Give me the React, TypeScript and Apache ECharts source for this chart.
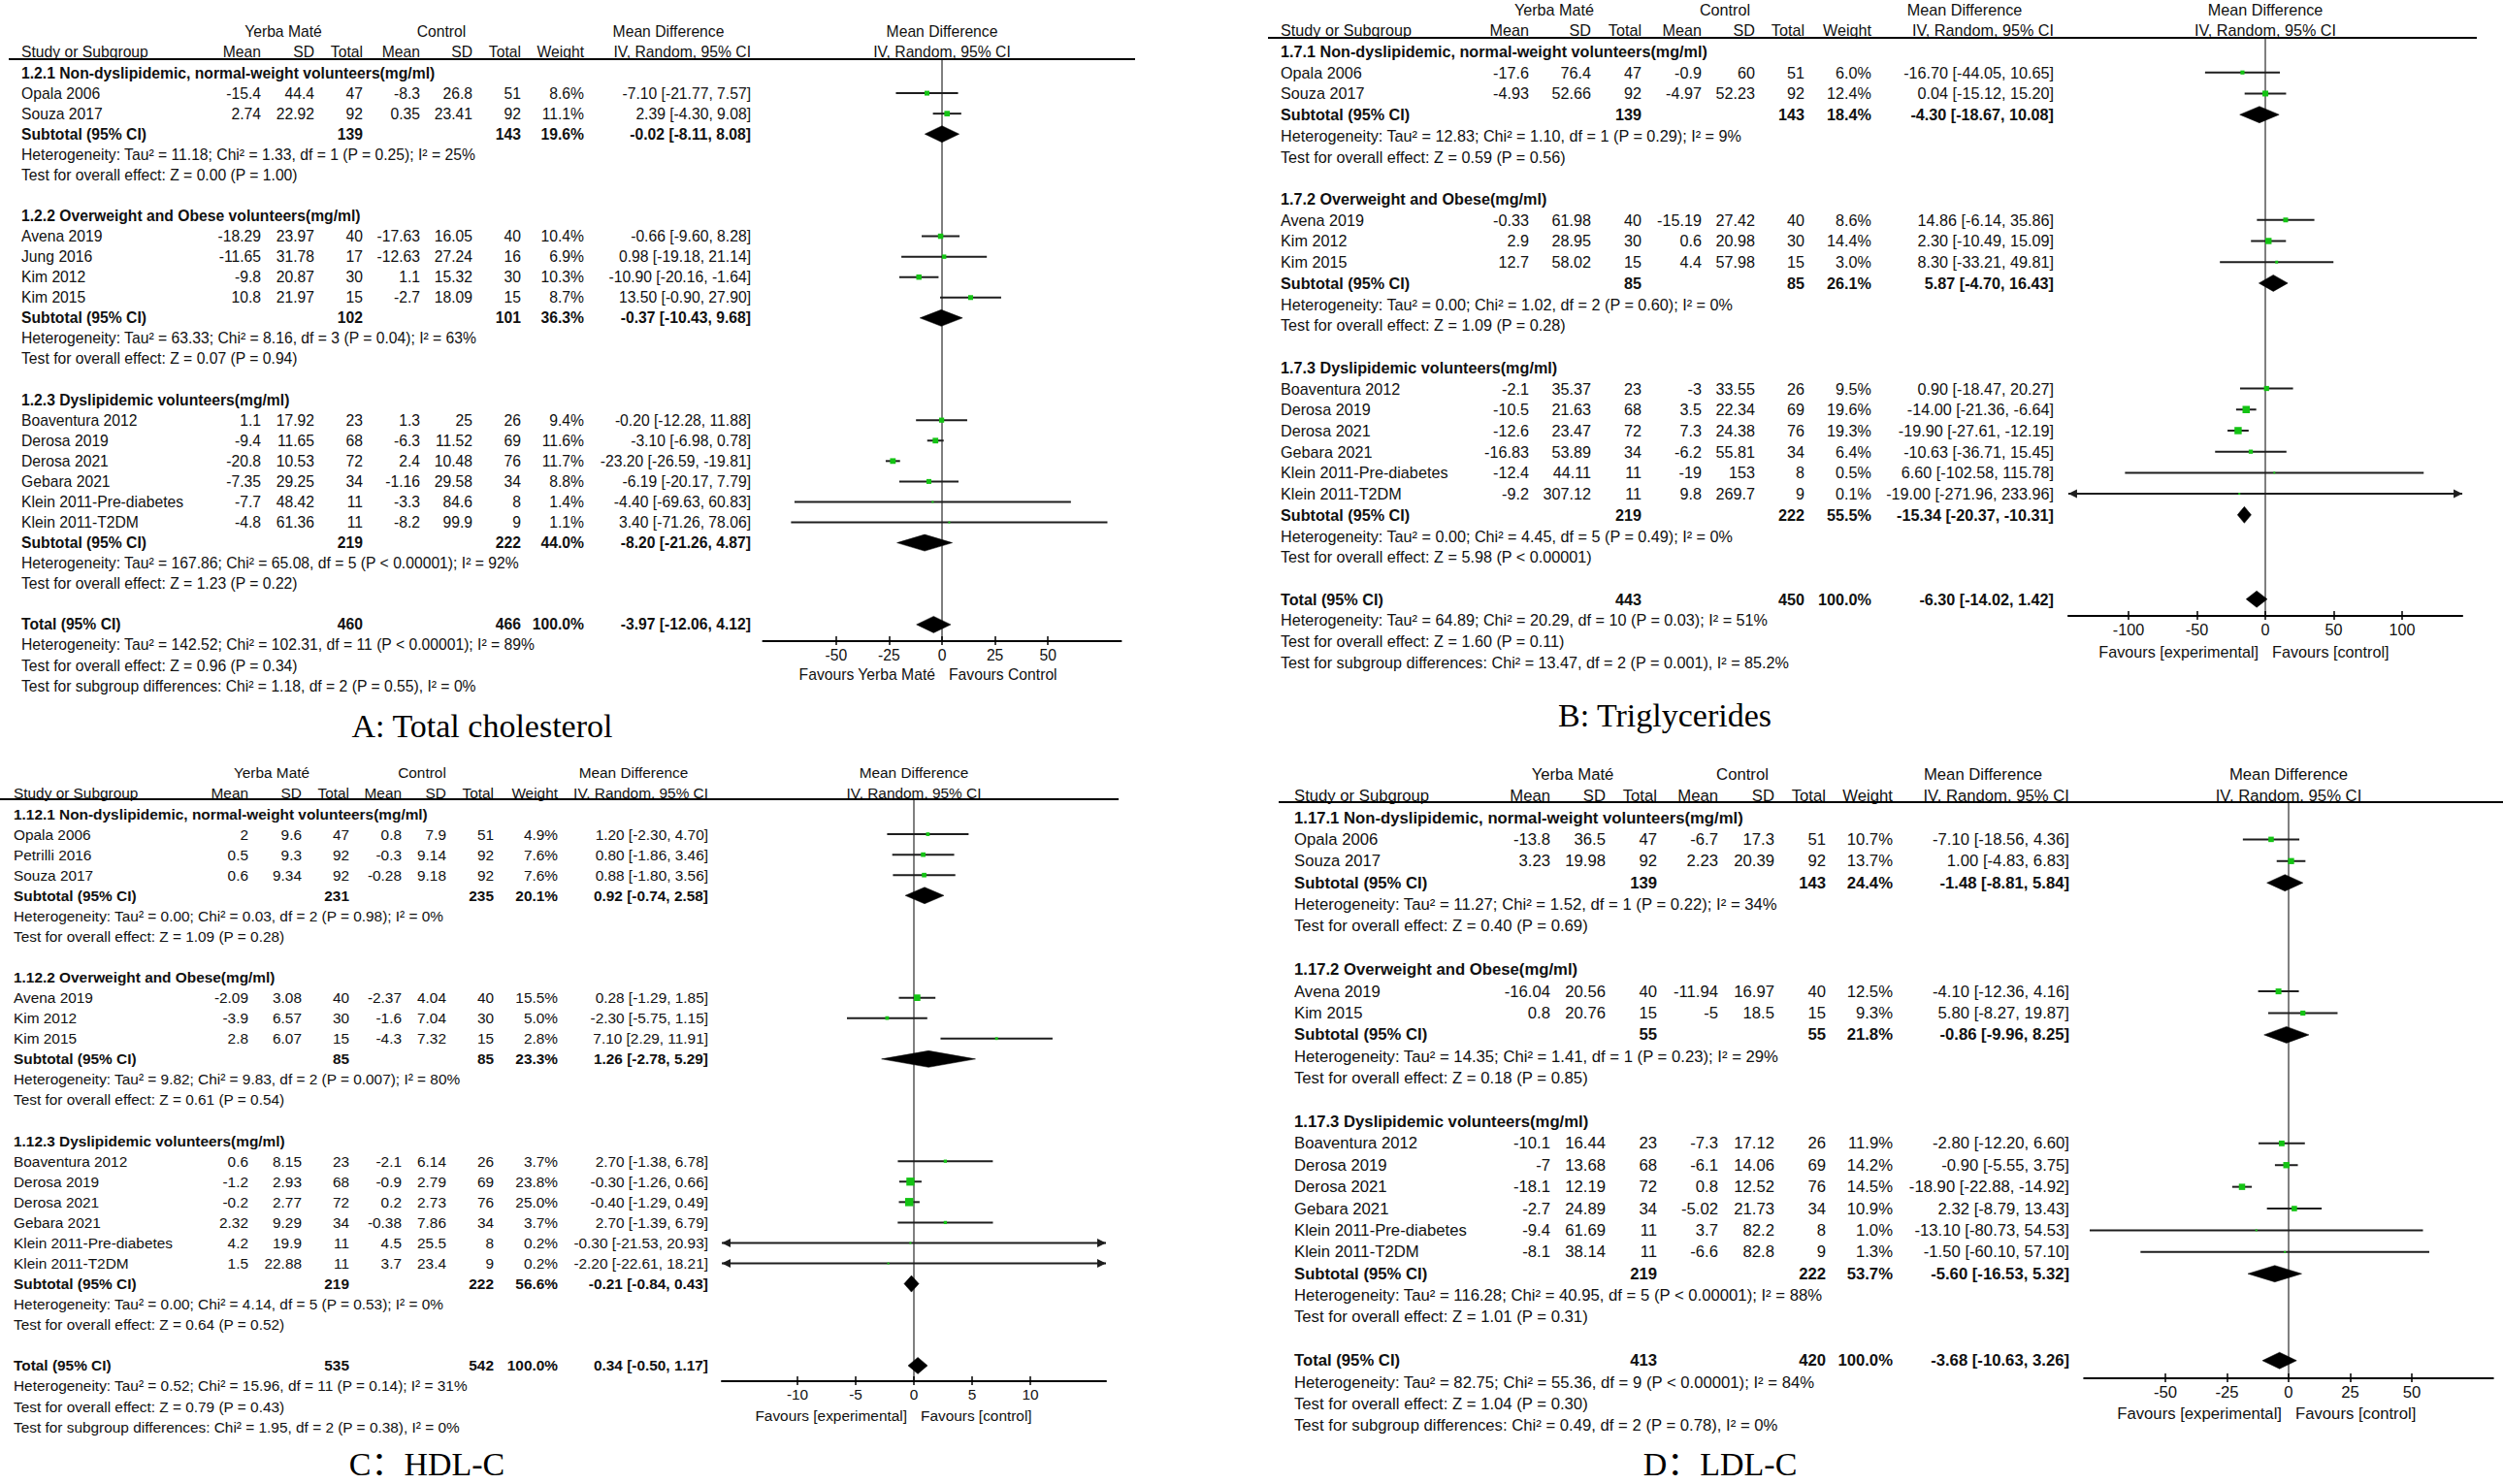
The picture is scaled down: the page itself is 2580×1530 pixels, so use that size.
import React, { useEffect, useRef } from "react";
import * as echarts from "echarts";

// ================= Panel A: Total cholesterol =================
const A_STUDY = ["Opala 2006", "Souza 2017", "Avena 2019", "Jung 2016", "Kim 2012", "Kim 2015", "Boaventura 2012", "Derosa 2019", "Derosa 2021", "Gebara 2021", "Klein 2011-Pre-diabetes", "Klein 2011-T2DM"];
const A_GROUP = [0, 0, 1, 1, 1, 1, 2, 2, 2, 2, 2, 2];
const A_EXP_MEAN = [-15.4, 2.74, -18.29, -11.65, -9.8, 10.8, 1.1, -9.4, -20.8, -7.35, -7.7, -4.8];
const A_EXP_SD = [44.4, 22.92, 23.97, 31.78, 20.87, 21.97, 17.92, 11.65, 10.53, 29.25, 48.42, 61.36];
const A_EXP_N = [47, 92, 40, 17, 30, 15, 23, 68, 72, 34, 11, 11];
const A_CTL_MEAN = [-8.3, 0.35, -17.63, -12.63, 1.1, -2.7, 1.3, -6.3, 2.4, -1.16, -3.3, -8.2];
const A_CTL_SD = [26.8, 23.41, 16.05, 27.24, 15.32, 18.09, 25, 11.52, 10.48, 29.58, 84.6, 99.9];
const A_CTL_N = [51, 92, 40, 16, 30, 15, 26, 69, 76, 34, 8, 9];
const A_WEIGHT = [8.6, 11.1, 10.4, 6.9, 10.3, 8.7, 9.4, 11.6, 11.7, 8.8, 1.4, 1.1];
const A_MD = [-7.1, 2.39, -0.66, 0.98, -10.9, 13.5, -0.2, -3.1, -23.2, -6.19, -4.4, 3.4];
const A_LO = [-21.77, -4.3, -9.6, -19.18, -20.16, -0.9, -12.28, -6.98, -26.59, -20.17, -69.63, -71.26];
const A_HI = [7.57, 9.08, 8.28, 21.14, -1.64, 27.9, 11.88, 0.78, -19.81, 7.79, 60.83, 78.06];
const A_SUB_TITLE = ["1.2.1 Non-dyslipidemic, normal-weight volunteers(mg/ml)", "1.2.2 Overweight and Obese volunteers(mg/ml)", "1.2.3 Dyslipidemic volunteers(mg/ml)"];
const A_SUB_EXP_N = [139, 102, 219];
const A_SUB_CTL_N = [143, 101, 222];
const A_SUB_WEIGHT = [19.6, 36.3, 44.0];
const A_SUB_MD = [-0.02, -0.37, -8.2];
const A_SUB_LO = [-8.11, -10.43, -21.26];
const A_SUB_HI = [8.08, 9.68, 4.87];
const A_SUB_HET = [
  "Heterogeneity: Tau² = 11.18; Chi² = 1.33, df = 1 (P = 0.25); I² = 25%",
  "Heterogeneity: Tau² = 63.33; Chi² = 8.16, df = 3 (P = 0.04); I² = 63%",
  "Heterogeneity: Tau² = 167.86; Chi² = 65.08, df = 5 (P < 0.00001); I² = 92%",
];
const A_SUB_TEST = [
  "Test for overall effect: Z = 0.00 (P = 1.00)",
  "Test for overall effect: Z = 0.07 (P = 0.94)",
  "Test for overall effect: Z = 1.23 (P = 0.22)",
];
const A_TOTAL = [460, 466, 100.0, -3.97, -12.06, 4.12];
const A_TOTAL_NOTES = [
  "Heterogeneity: Tau² = 142.52; Chi² = 102.31, df = 11 (P < 0.00001); I² = 89%",
  "Test for overall effect: Z = 0.96 (P = 0.34)",
  "Test for subgroup differences: Chi² = 1.18, df = 2 (P = 0.55), I² = 0%",
];
const A_TICKS = [-50, -25, 0, 25, 50];
const A_FAVOURS = ["Favours Yerba Maté", "Favours Control"];
const A_TITLE = "A: Total cholesterol";

// ================= Panel B: Triglycerides =================
const B_STUDY = ["Opala 2006", "Souza 2017", "Avena 2019", "Kim 2012", "Kim 2015", "Boaventura 2012", "Derosa 2019", "Derosa 2021", "Gebara 2021", "Klein 2011-Pre-diabetes", "Klein 2011-T2DM"];
const B_GROUP = [0, 0, 1, 1, 1, 2, 2, 2, 2, 2, 2];
const B_EXP_MEAN = [-17.6, -4.93, -0.33, 2.9, 12.7, -2.1, -10.5, -12.6, -16.83, -12.4, -9.2];
const B_EXP_SD = [76.4, 52.66, 61.98, 28.95, 58.02, 35.37, 21.63, 23.47, 53.89, 44.11, 307.12];
const B_EXP_N = [47, 92, 40, 30, 15, 23, 68, 72, 34, 11, 11];
const B_CTL_MEAN = [-0.9, -4.97, -15.19, 0.6, 4.4, -3, 3.5, 7.3, -6.2, -19, 9.8];
const B_CTL_SD = [60, 52.23, 27.42, 20.98, 57.98, 33.55, 22.34, 24.38, 55.81, 153, 269.7];
const B_CTL_N = [51, 92, 40, 30, 15, 26, 69, 76, 34, 8, 9];
const B_WEIGHT = [6.0, 12.4, 8.6, 14.4, 3.0, 9.5, 19.6, 19.3, 6.4, 0.5, 0.1];
const B_MD = [-16.7, 0.04, 14.86, 2.3, 8.3, 0.9, -14.0, -19.9, -10.63, 6.6, -19.0];
const B_LO = [-44.05, -15.12, -6.14, -10.49, -33.21, -18.47, -21.36, -27.61, -36.71, -102.58, -271.96];
const B_HI = [10.65, 15.2, 35.86, 15.09, 49.81, 20.27, -6.64, -12.19, 15.45, 115.78, 233.96];
const B_SUB_TITLE = ["1.7.1 Non-dyslipidemic, normal-weight volunteers(mg/ml)", "1.7.2 Overweight and Obese(mg/ml)", "1.7.3 Dyslipidemic volunteers(mg/ml)"];
const B_SUB_EXP_N = [139, 85, 219];
const B_SUB_CTL_N = [143, 85, 222];
const B_SUB_WEIGHT = [18.4, 26.1, 55.5];
const B_SUB_MD = [-4.3, 5.87, -15.34];
const B_SUB_LO = [-18.67, -4.7, -20.37];
const B_SUB_HI = [10.08, 16.43, -10.31];
const B_SUB_HET = [
  "Heterogeneity: Tau² = 12.83; Chi² = 1.10, df = 1 (P = 0.29); I² = 9%",
  "Heterogeneity: Tau² = 0.00; Chi² = 1.02, df = 2 (P = 0.60); I² = 0%",
  "Heterogeneity: Tau² = 0.00; Chi² = 4.45, df = 5 (P = 0.49); I² = 0%",
];
const B_SUB_TEST = [
  "Test for overall effect: Z = 0.59 (P = 0.56)",
  "Test for overall effect: Z = 1.09 (P = 0.28)",
  "Test for overall effect: Z = 5.98 (P < 0.00001)",
];
const B_TOTAL = [443, 450, 100.0, -6.3, -14.02, 1.42];
const B_TOTAL_NOTES = [
  "Heterogeneity: Tau² = 64.89; Chi² = 20.29, df = 10 (P = 0.03); I² = 51%",
  "Test for overall effect: Z = 1.60 (P = 0.11)",
  "Test for subgroup differences: Chi² = 13.47, df = 2 (P = 0.001), I² = 85.2%",
];
const B_TICKS = [-100, -50, 0, 50, 100];
const B_FAVOURS = ["Favours [experimental]", "Favours [control]"];
const B_TITLE = "B: Triglycerides";

// ================= Panel C: HDL-C =================
const C_STUDY = ["Opala 2006", "Petrilli 2016", "Souza 2017", "Avena 2019", "Kim 2012", "Kim 2015", "Boaventura 2012", "Derosa 2019", "Derosa 2021", "Gebara 2021", "Klein 2011-Pre-diabetes", "Klein 2011-T2DM"];
const C_GROUP = [0, 0, 0, 1, 1, 1, 2, 2, 2, 2, 2, 2];
const C_EXP_MEAN = [2, 0.5, 0.6, -2.09, -3.9, 2.8, 0.6, -1.2, -0.2, 2.32, 4.2, 1.5];
const C_EXP_SD = [9.6, 9.3, 9.34, 3.08, 6.57, 6.07, 8.15, 2.93, 2.77, 9.29, 19.9, 22.88];
const C_EXP_N = [47, 92, 92, 40, 30, 15, 23, 68, 72, 34, 11, 11];
const C_CTL_MEAN = [0.8, -0.3, -0.28, -2.37, -1.6, -4.3, -2.1, -0.9, 0.2, -0.38, 4.5, 3.7];
const C_CTL_SD = [7.9, 9.14, 9.18, 4.04, 7.04, 7.32, 6.14, 2.79, 2.73, 7.86, 25.5, 23.4];
const C_CTL_N = [51, 92, 92, 40, 30, 15, 26, 69, 76, 34, 8, 9];
const C_WEIGHT = [4.9, 7.6, 7.6, 15.5, 5.0, 2.8, 3.7, 23.8, 25.0, 3.7, 0.2, 0.2];
const C_MD = [1.2, 0.8, 0.88, 0.28, -2.3, 7.1, 2.7, -0.3, -0.4, 2.7, -0.3, -2.2];
const C_LO = [-2.3, -1.86, -1.8, -1.29, -5.75, 2.29, -1.38, -1.26, -1.29, -1.39, -21.53, -22.61];
const C_HI = [4.7, 3.46, 3.56, 1.85, 1.15, 11.91, 6.78, 0.66, 0.49, 6.79, 20.93, 18.21];
const C_SUB_TITLE = ["1.12.1 Non-dyslipidemic, normal-weight volunteers(mg/ml)", "1.12.2 Overweight and Obese(mg/ml)", "1.12.3 Dyslipidemic volunteers(mg/ml)"];
const C_SUB_EXP_N = [231, 85, 219];
const C_SUB_CTL_N = [235, 85, 222];
const C_SUB_WEIGHT = [20.1, 23.3, 56.6];
const C_SUB_MD = [0.92, 1.26, -0.21];
const C_SUB_LO = [-0.74, -2.78, -0.84];
const C_SUB_HI = [2.58, 5.29, 0.43];
const C_SUB_HET = [
  "Heterogeneity: Tau² = 0.00; Chi² = 0.03, df = 2 (P = 0.98); I² = 0%",
  "Heterogeneity: Tau² = 9.82; Chi² = 9.83, df = 2 (P = 0.007); I² = 80%",
  "Heterogeneity: Tau² = 0.00; Chi² = 4.14, df = 5 (P = 0.53); I² = 0%",
];
const C_SUB_TEST = [
  "Test for overall effect: Z = 1.09 (P = 0.28)",
  "Test for overall effect: Z = 0.61 (P = 0.54)",
  "Test for overall effect: Z = 0.64 (P = 0.52)",
];
const C_TOTAL = [535, 542, 100.0, 0.34, -0.5, 1.17];
const C_TOTAL_NOTES = [
  "Heterogeneity: Tau² = 0.52; Chi² = 15.96, df = 11 (P = 0.14); I² = 31%",
  "Test for overall effect: Z = 0.79 (P = 0.43)",
  "Test for subgroup differences: Chi² = 1.95, df = 2 (P = 0.38), I² = 0%",
];
const C_TICKS = [-10, -5, 0, 5, 10];
const C_FAVOURS = ["Favours [experimental]", "Favours [control]"];
const C_TITLE = "C：HDL-C";

// ================= Panel D: LDL-C =================
const D_STUDY = ["Opala 2006", "Souza 2017", "Avena 2019", "Kim 2015", "Boaventura 2012", "Derosa 2019", "Derosa 2021", "Gebara 2021", "Klein 2011-Pre-diabetes", "Klein 2011-T2DM"];
const D_GROUP = [0, 0, 1, 1, 2, 2, 2, 2, 2, 2];
const D_EXP_MEAN = [-13.8, 3.23, -16.04, 0.8, -10.1, -7, -18.1, -2.7, -9.4, -8.1];
const D_EXP_SD = [36.5, 19.98, 20.56, 20.76, 16.44, 13.68, 12.19, 24.89, 61.69, 38.14];
const D_EXP_N = [47, 92, 40, 15, 23, 68, 72, 34, 11, 11];
const D_CTL_MEAN = [-6.7, 2.23, -11.94, -5, -7.3, -6.1, 0.8, -5.02, 3.7, -6.6];
const D_CTL_SD = [17.3, 20.39, 16.97, 18.5, 17.12, 14.06, 12.52, 21.73, 82.2, 82.8];
const D_CTL_N = [51, 92, 40, 15, 26, 69, 76, 34, 8, 9];
const D_WEIGHT = [10.7, 13.7, 12.5, 9.3, 11.9, 14.2, 14.5, 10.9, 1.0, 1.3];
const D_MD = [-7.1, 1.0, -4.1, 5.8, -2.8, -0.9, -18.9, 2.32, -13.1, -1.5];
const D_LO = [-18.56, -4.83, -12.36, -8.27, -12.2, -5.55, -22.88, -8.79, -80.73, -60.1];
const D_HI = [4.36, 6.83, 4.16, 19.87, 6.6, 3.75, -14.92, 13.43, 54.53, 57.1];
const D_SUB_TITLE = ["1.17.1 Non-dyslipidemic, normal-weight volunteers(mg/ml)", "1.17.2 Overweight and Obese(mg/ml)", "1.17.3 Dyslipidemic volunteers(mg/ml)"];
const D_SUB_EXP_N = [139, 55, 219];
const D_SUB_CTL_N = [143, 55, 222];
const D_SUB_WEIGHT = [24.4, 21.8, 53.7];
const D_SUB_MD = [-1.48, -0.86, -5.6];
const D_SUB_LO = [-8.81, -9.96, -16.53];
const D_SUB_HI = [5.84, 8.25, 5.32];
const D_SUB_HET = [
  "Heterogeneity: Tau² = 11.27; Chi² = 1.52, df = 1 (P = 0.22); I² = 34%",
  "Heterogeneity: Tau² = 14.35; Chi² = 1.41, df = 1 (P = 0.23); I² = 29%",
  "Heterogeneity: Tau² = 116.28; Chi² = 40.95, df = 5 (P < 0.00001); I² = 88%",
];
const D_SUB_TEST = [
  "Test for overall effect: Z = 0.40 (P = 0.69)",
  "Test for overall effect: Z = 0.18 (P = 0.85)",
  "Test for overall effect: Z = 1.01 (P = 0.31)",
];
const D_TOTAL = [413, 420, 100.0, -3.68, -10.63, 3.26];
const D_TOTAL_NOTES = [
  "Heterogeneity: Tau² = 82.75; Chi² = 55.36, df = 9 (P < 0.00001); I² = 84%",
  "Test for overall effect: Z = 1.04 (P = 0.30)",
  "Test for subgroup differences: Chi² = 0.49, df = 2 (P = 0.78), I² = 0%",
];
const D_TICKS = [-50, -25, 0, 25, 50];
const D_FAVOURS = ["Favours [experimental]", "Favours [control]"];
const D_TITLE = "D：LDL-C";

const COL_HEADERS = ["Mean", "SD", "Total", "Mean", "SD", "Total", "Weight", "IV, Random, 95% CI"];

// ================= styling / layout =================
const W = 2580;
const H = 1530;
const FONT = '"Liberation Sans", Arial, Helvetica, sans-serif';
const SERIF = '"Liberation Serif", "Times New Roman", "Noto Sans CJK SC", serif';
const INK = "#111111";
const GREEN = "#14c314";
const LINE = "#1e1e1e";

const PANELS = [
  {
    d: { study: A_STUDY, group: A_GROUP, em: A_EXP_MEAN, es: A_EXP_SD, en: A_EXP_N, cm: A_CTL_MEAN, cs: A_CTL_SD, cn: A_CTL_N, w: A_WEIGHT, md: A_MD, lo: A_LO, hi: A_HI, subTitle: A_SUB_TITLE, subEn: A_SUB_EXP_N, subCn: A_SUB_CTL_N, subW: A_SUB_WEIGHT, subMd: A_SUB_MD, subLo: A_SUB_LO, subHi: A_SUB_HI, subHet: A_SUB_HET, subTest: A_SUB_TEST, total: A_TOTAL, notes: A_TOTAL_NOTES, ticks: A_TICKS, fav: A_FAVOURS, title: A_TITLE },
    L: { rowY0: 75, pitch: 21.07, font: 15.7, studyX: 22, cols: [269, 324, 374, 433, 487, 537, 602, 774], ymC: 292, ctlC: 455, mdC: 689, zeroX: 971, ppu: 2.184, range: 84.5, axisY: 661, lineY: 61, lineX: [9, 1170], favDy: 34, titleX: 497, titleY: 748 },
  },
  {
    d: { study: B_STUDY, group: B_GROUP, em: B_EXP_MEAN, es: B_EXP_SD, en: B_EXP_N, cm: B_CTL_MEAN, cs: B_CTL_SD, cn: B_CTL_N, w: B_WEIGHT, md: B_MD, lo: B_LO, hi: B_HI, subTitle: B_SUB_TITLE, subEn: B_SUB_EXP_N, subCn: B_SUB_CTL_N, subW: B_SUB_WEIGHT, subMd: B_SUB_MD, subLo: B_SUB_LO, subHi: B_SUB_HI, subHet: B_SUB_HET, subTest: B_SUB_TEST, total: B_TOTAL, notes: B_TOTAL_NOTES, ticks: B_TICKS, fav: B_FAVOURS, title: B_TITLE },
    L: { rowY0: 53, pitch: 21.72, font: 16.2, studyX: 1320, cols: [1576, 1640, 1692, 1754, 1809, 1860, 1929, 2117], ymC: 1602, ctlC: 1778, mdC: 2025, zeroX: 2335, ppu: 1.41, range: 144, axisY: 635, lineY: 39, lineX: [1307, 2553], favDy: 37, titleX: 1716, titleY: 737 },
  },
  {
    d: { study: C_STUDY, group: C_GROUP, em: C_EXP_MEAN, es: C_EXP_SD, en: C_EXP_N, cm: C_CTL_MEAN, cs: C_CTL_SD, cn: C_CTL_N, w: C_WEIGHT, md: C_MD, lo: C_LO, hi: C_HI, subTitle: C_SUB_TITLE, subEn: C_SUB_EXP_N, subCn: C_SUB_CTL_N, subW: C_SUB_WEIGHT, subMd: C_SUB_MD, subLo: C_SUB_LO, subHi: C_SUB_HI, subHet: C_SUB_HET, subTest: C_SUB_TEST, total: C_TOTAL, notes: C_TOTAL_NOTES, ticks: C_TICKS, fav: C_FAVOURS, title: C_TITLE },
    L: { rowY0: 839, pitch: 21.07, font: 15.4, studyX: 14, cols: [256, 311, 360, 414, 460, 509, 575, 730], ymC: 280, ctlC: 435, mdC: 653, zeroX: 942, ppu: 12, range: 16.5, axisY: 1424, lineY: 824, lineX: [0, 1153], favDy: 35, titleX: 440, titleY: 1509 },
  },
  {
    d: { study: D_STUDY, group: D_GROUP, em: D_EXP_MEAN, es: D_EXP_SD, en: D_EXP_N, cm: D_CTL_MEAN, cs: D_CTL_SD, cn: D_CTL_N, w: D_WEIGHT, md: D_MD, lo: D_LO, hi: D_HI, subTitle: D_SUB_TITLE, subEn: D_SUB_EXP_N, subCn: D_SUB_CTL_N, subW: D_SUB_WEIGHT, subMd: D_SUB_MD, subLo: D_SUB_LO, subHi: D_SUB_HI, subHet: D_SUB_HET, subTest: D_SUB_TEST, total: D_TOTAL, notes: D_TOTAL_NOTES, ticks: D_TICKS, fav: D_FAVOURS, title: D_TITLE },
    L: { rowY0: 843, pitch: 22.39, font: 16.7, studyX: 1334, cols: [1598, 1655, 1708, 1771, 1829, 1882, 1951, 2133], ymC: 1621, ctlC: 1796, mdC: 2044, zeroX: 2359, ppu: 2.54, range: 83, axisY: 1421, lineY: 827, lineX: [1318, 2580], favDy: 36, titleX: 1773, titleY: 1509 },
  },
];

const f2 = (v: number) => v.toFixed(2);
const ciText = (m: number, lo: number, hi: number) => `${f2(m)} [${f2(lo)}, ${f2(hi)}]`;
const pct = (w: number) => `${w.toFixed(1)}%`;

// Build the list of rows (row index = line number of the RevMan table)
function layoutRows(d: any) {
  const rows: any[] = [];
  let idx = 0;
  for (let g = 0; g < d.subTitle.length; g++) {
    rows.push({ kind: "heading", idx: idx++, g });
    d.study.forEach((_: string, i: number) => {
      if (d.group[i] === g) rows.push({ kind: "study", idx: idx++, i });
    });
    rows.push({ kind: "subtotal", idx: idx++, g });
    rows.push({ kind: "note", idx: idx++, text: d.subHet[g] });
    rows.push({ kind: "note", idx: idx++, text: d.subTest[g] });
    idx++; // blank line
  }
  rows.push({ kind: "total", idx: idx++ });
  d.notes.forEach((t: string) => rows.push({ kind: "note", idx: idx++, text: t }));
  return rows;
}

function tableItems(d: any, L: any) {
  const items: any[] = [];
  const T = (x: number, idx: number, text: string, align: string, bold = false) =>
    items.push({ kind: "text", x, idx, text, align, bold, fs: L.font });
  const c = L.cols;
  T(L.ymC, -2, "Yerba Maté", "center");
  T(L.ctlC, -2, "Control", "center");
  T(L.mdC, -2, "Mean Difference", "center");
  T(L.zeroX, -2, "Mean Difference", "center");
  T(L.studyX, -1, "Study or Subgroup", "left");
  COL_HEADERS.forEach((h, k) => T(c[k], -1, h, "right"));
  T(L.zeroX, -1, "IV, Random, 95% CI", "center");
  items.push({ kind: "hline", x: L.lineX[0], x2: L.lineX[1], idx: (L.lineY - L.rowY0) / L.pitch });

  layoutRows(d).forEach((r) => {
    if (r.kind === "heading") T(L.studyX, r.idx, d.subTitle[r.g], "left", true);
    else if (r.kind === "note") T(L.studyX, r.idx, r.text, "left");
    else if (r.kind === "study") {
      const i = r.i;
      T(L.studyX, r.idx, d.study[i], "left");
      const vals = [String(d.em[i]), String(d.es[i]), String(d.en[i]), String(d.cm[i]), String(d.cs[i]), String(d.cn[i]), pct(d.w[i]), ciText(d.md[i], d.lo[i], d.hi[i])];
      vals.forEach((v, k) => T(c[k], r.idx, v, "right"));
    } else if (r.kind === "subtotal") {
      const g = r.g;
      T(L.studyX, r.idx, "Subtotal (95% CI)", "left", true);
      T(c[2], r.idx, String(d.subEn[g]), "right", true);
      T(c[5], r.idx, String(d.subCn[g]), "right", true);
      T(c[6], r.idx, pct(d.subW[g]), "right", true);
      T(c[7], r.idx, ciText(d.subMd[g], d.subLo[g], d.subHi[g]), "right", true);
    } else if (r.kind === "total") {
      const t = d.total;
      T(L.studyX, r.idx, "Total (95% CI)", "left", true);
      T(c[2], r.idx, String(t[0]), "right", true);
      T(c[5], r.idx, String(t[1]), "right", true);
      T(c[6], r.idx, pct(t[2]), "right", true);
      T(c[7], r.idx, ciText(t[3], t[4], t[5]), "right", true);
    }
  });
  return items;
}

function forestItems(d: any, L: any) {
  const items: any[] = [];
  const yMin = (L.lineY - L.rowY0) / L.pitch;
  const yMax = (L.axisY - L.rowY0) / L.pitch;
  items.push({ kind: "zero", v: [0, yMin], yMin, yMax });
  layoutRows(d).forEach((r) => {
    if (r.kind === "study") {
      const i = r.i;
      items.push({ kind: "study", v: [d.md[i], r.idx], est: d.md[i], lo: d.lo[i], hi: d.hi[i], idx: r.idx, w: d.w[i] });
    } else if (r.kind === "subtotal") {
      const g = r.g;
      items.push({ kind: "diamond", v: [d.subMd[g], r.idx], est: d.subMd[g], lo: d.subLo[g], hi: d.subHi[g], idx: r.idx });
    } else if (r.kind === "total") {
      const t = d.total;
      items.push({ kind: "diamond", v: [t[3], r.idx], est: t[3], lo: t[4], hi: t[5], idx: r.idx });
    }
  });
  items.push({ kind: "fav", v: [0, yMax], yMax });
  return items;
}

function buildOption() {
  const grid: any[] = [];
  const xAxis: any[] = [];
  const yAxis: any[] = [];
  const series: any[] = [];
  const graphic: any[] = [];

  PANELS.forEach(({ d, L }) => {
    // ---------- table grid (x = page pixels, y = row index) ----------
    const tMin = -2.4;
    const tTop = L.rowY0 + tMin * L.pitch;
    const tBottomY = 1525;
    const tMax = (tBottomY - L.rowY0) / L.pitch;
    const gT = grid.length;
    grid.push({ left: 0, top: tTop, width: W, height: tBottomY - tTop });
    const xT = xAxis.length;
    xAxis.push({ type: "value", gridIndex: gT, min: 0, max: W, show: false });
    const yT = yAxis.length;
    yAxis.push({ type: "value", gridIndex: gT, min: tMin, max: tMax, inverse: true, show: false });
    const tItems = tableItems(d, L);
    series.push({
      type: "custom",
      xAxisIndex: xT,
      yAxisIndex: yT,
      silent: true,
      clip: false,
      data: tItems.map((t) => [t.x, t.idx]),
      renderItem: (params: any, api: any) => {
        const it = tItems[params.dataIndex];
        const p = api.coord([it.x, it.idx]);
        if (it.kind === "hline") {
          const p2 = api.coord([it.x2, it.idx]);
          return { type: "line", shape: { x1: p[0], y1: p[1], x2: p2[0], y2: p2[1] }, style: { stroke: "#000", lineWidth: 2 } };
        }
        return {
          type: "text",
          x: p[0],
          y: p[1],
          style: {
            text: it.text,
            fill: INK,
            fontSize: it.fs,
            fontFamily: FONT,
            fontWeight: it.bold ? "bold" : "normal",
            textAlign: it.align,
            textVerticalAlign: "middle",
            align: it.align,
            verticalAlign: "middle",
          },
        };
      },
    });

    // ---------- forest grid (x = mean difference, y = row index) ----------
    const yMin = (L.lineY - L.rowY0) / L.pitch;
    const yMax = (L.axisY - L.rowY0) / L.pitch;
    const gF = grid.length;
    grid.push({ left: L.zeroX - L.range * L.ppu, top: L.lineY, width: 2 * L.range * L.ppu, height: L.axisY - L.lineY });
    const xF = xAxis.length;
    xAxis.push({
      type: "value",
      gridIndex: gF,
      min: -L.range,
      max: L.range,
      position: "bottom",
      axisLine: { show: true, onZero: false, lineStyle: { color: "#000", width: 2 } },
      axisTick: { show: true, inside: true, length: 5, customValues: d.ticks, lineStyle: { color: "#000", width: 1.5 } },
      axisLabel: { show: true, customValues: d.ticks, margin: 6, color: INK, fontSize: L.font, fontFamily: FONT, formatter: (v: number) => String(v) },
      splitLine: { show: false },
    });
    xAxis.push({
      type: "value",
      gridIndex: gF,
      min: -L.range,
      max: L.range,
      position: "bottom",
      axisLine: { show: false, onZero: false },
      axisTick: { show: true, inside: false, length: 4, customValues: d.ticks, lineStyle: { color: "#000", width: 1.5 } },
      axisLabel: { show: false },
      splitLine: { show: false },
    });
    const yF = yAxis.length;
    yAxis.push({ type: "value", gridIndex: gF, min: yMin, max: yMax, inverse: true, show: false });

    const fItems = forestItems(d, L);
    const R = L.range;
    const fs = L.font;
    series.push({
      type: "custom",
      xAxisIndex: xF,
      yAxisIndex: yF,
      silent: true,
      clip: false,
      data: fItems.map((t) => t.v),
      renderItem: (params: any, api: any) => {
        const it = fItems[params.dataIndex];
        if (it.kind === "zero") {
          const a = api.coord([0, it.yMin]);
          const b = api.coord([0, it.yMax]);
          return { type: "line", shape: { x1: a[0], y1: a[1], x2: b[0], y2: b[1] }, style: { stroke: "#000", lineWidth: 1 } };
        }
        if (it.kind === "fav") {
          const a = api.coord([0, it.yMax]);
          return {
            type: "group",
            children: [
              { type: "text", x: a[0] - 7, y: a[1] + L.favDy, style: { text: d.fav[0], fill: INK, fontSize: fs, fontFamily: FONT, textAlign: "right", textVerticalAlign: "middle", align: "right", verticalAlign: "middle" } },
              { type: "text", x: a[0] + 7, y: a[1] + L.favDy, style: { text: d.fav[1], fill: INK, fontSize: fs, fontFamily: FONT, textAlign: "left", textVerticalAlign: "middle", align: "left", verticalAlign: "middle" } },
            ],
          };
        }
        const lo = Math.max(it.lo, -R);
        const hi = Math.min(it.hi, R);
        const pl = api.coord([lo, it.idx]);
        const ph = api.coord([hi, it.idx]);
        const pc = api.coord([it.est, it.idx]);
        if (it.kind === "diamond") {
          const h = 8.5;
          return {
            type: "polygon",
            shape: { points: [[pl[0], pc[1]], [pc[0], pc[1] - h], [ph[0], pc[1]], [pc[0], pc[1] + h]] },
            style: { fill: "#000", stroke: "#000", lineWidth: 0.5 },
          };
        }
        const children: any[] = [
          { type: "line", shape: { x1: pl[0], y1: pl[1], x2: ph[0], y2: ph[1] }, style: { stroke: LINE, lineWidth: 2 } },
        ];
        if (it.lo < -R) {
          children.push({ type: "polygon", shape: { points: [[pl[0], pl[1]], [pl[0] + 9, pl[1] - 4.5], [pl[0] + 9, pl[1] + 4.5]] }, style: { fill: LINE } });
        }
        if (it.hi > R) {
          children.push({ type: "polygon", shape: { points: [[ph[0], ph[1]], [ph[0] - 9, ph[1] - 4.5], [ph[0] - 9, ph[1] + 4.5]] }, style: { fill: LINE } });
        }
        const s = Math.max(2, Math.sqrt(it.w) * 1.7);
        children.push({ type: "rect", shape: { x: pc[0] - s / 2, y: pc[1] - s / 2, width: s, height: s }, style: { fill: GREEN } });
        return { type: "group", children };
      },
    });

    graphic.push({
      type: "text",
      x: L.titleX,
      y: L.titleY,
      silent: true,
      style: { text: d.title, fill: "#000", fontSize: 34, fontFamily: SERIF, textAlign: "center", textVerticalAlign: "middle", align: "center", verticalAlign: "middle" },
    });
  });

  return {
    animation: false,
    backgroundColor: "#ffffff",
    tooltip: { show: false },
    grid,
    xAxis,
    yAxis,
    series,
    graphic,
  };
}

export default function App() {
  const ref = useRef<HTMLDivElement>(null);
  useEffect(() => {
    if (!ref.current) return;
    const chart = echarts.init(ref.current, null, { renderer: "svg", width: W, height: H });
    chart.setOption(buildOption() as any);
    return () => chart.dispose();
  }, []);
  return <div ref={ref} style={{ position: "absolute", left: 0, top: 0, width: W, height: H, background: "#fff" }} />;
}
